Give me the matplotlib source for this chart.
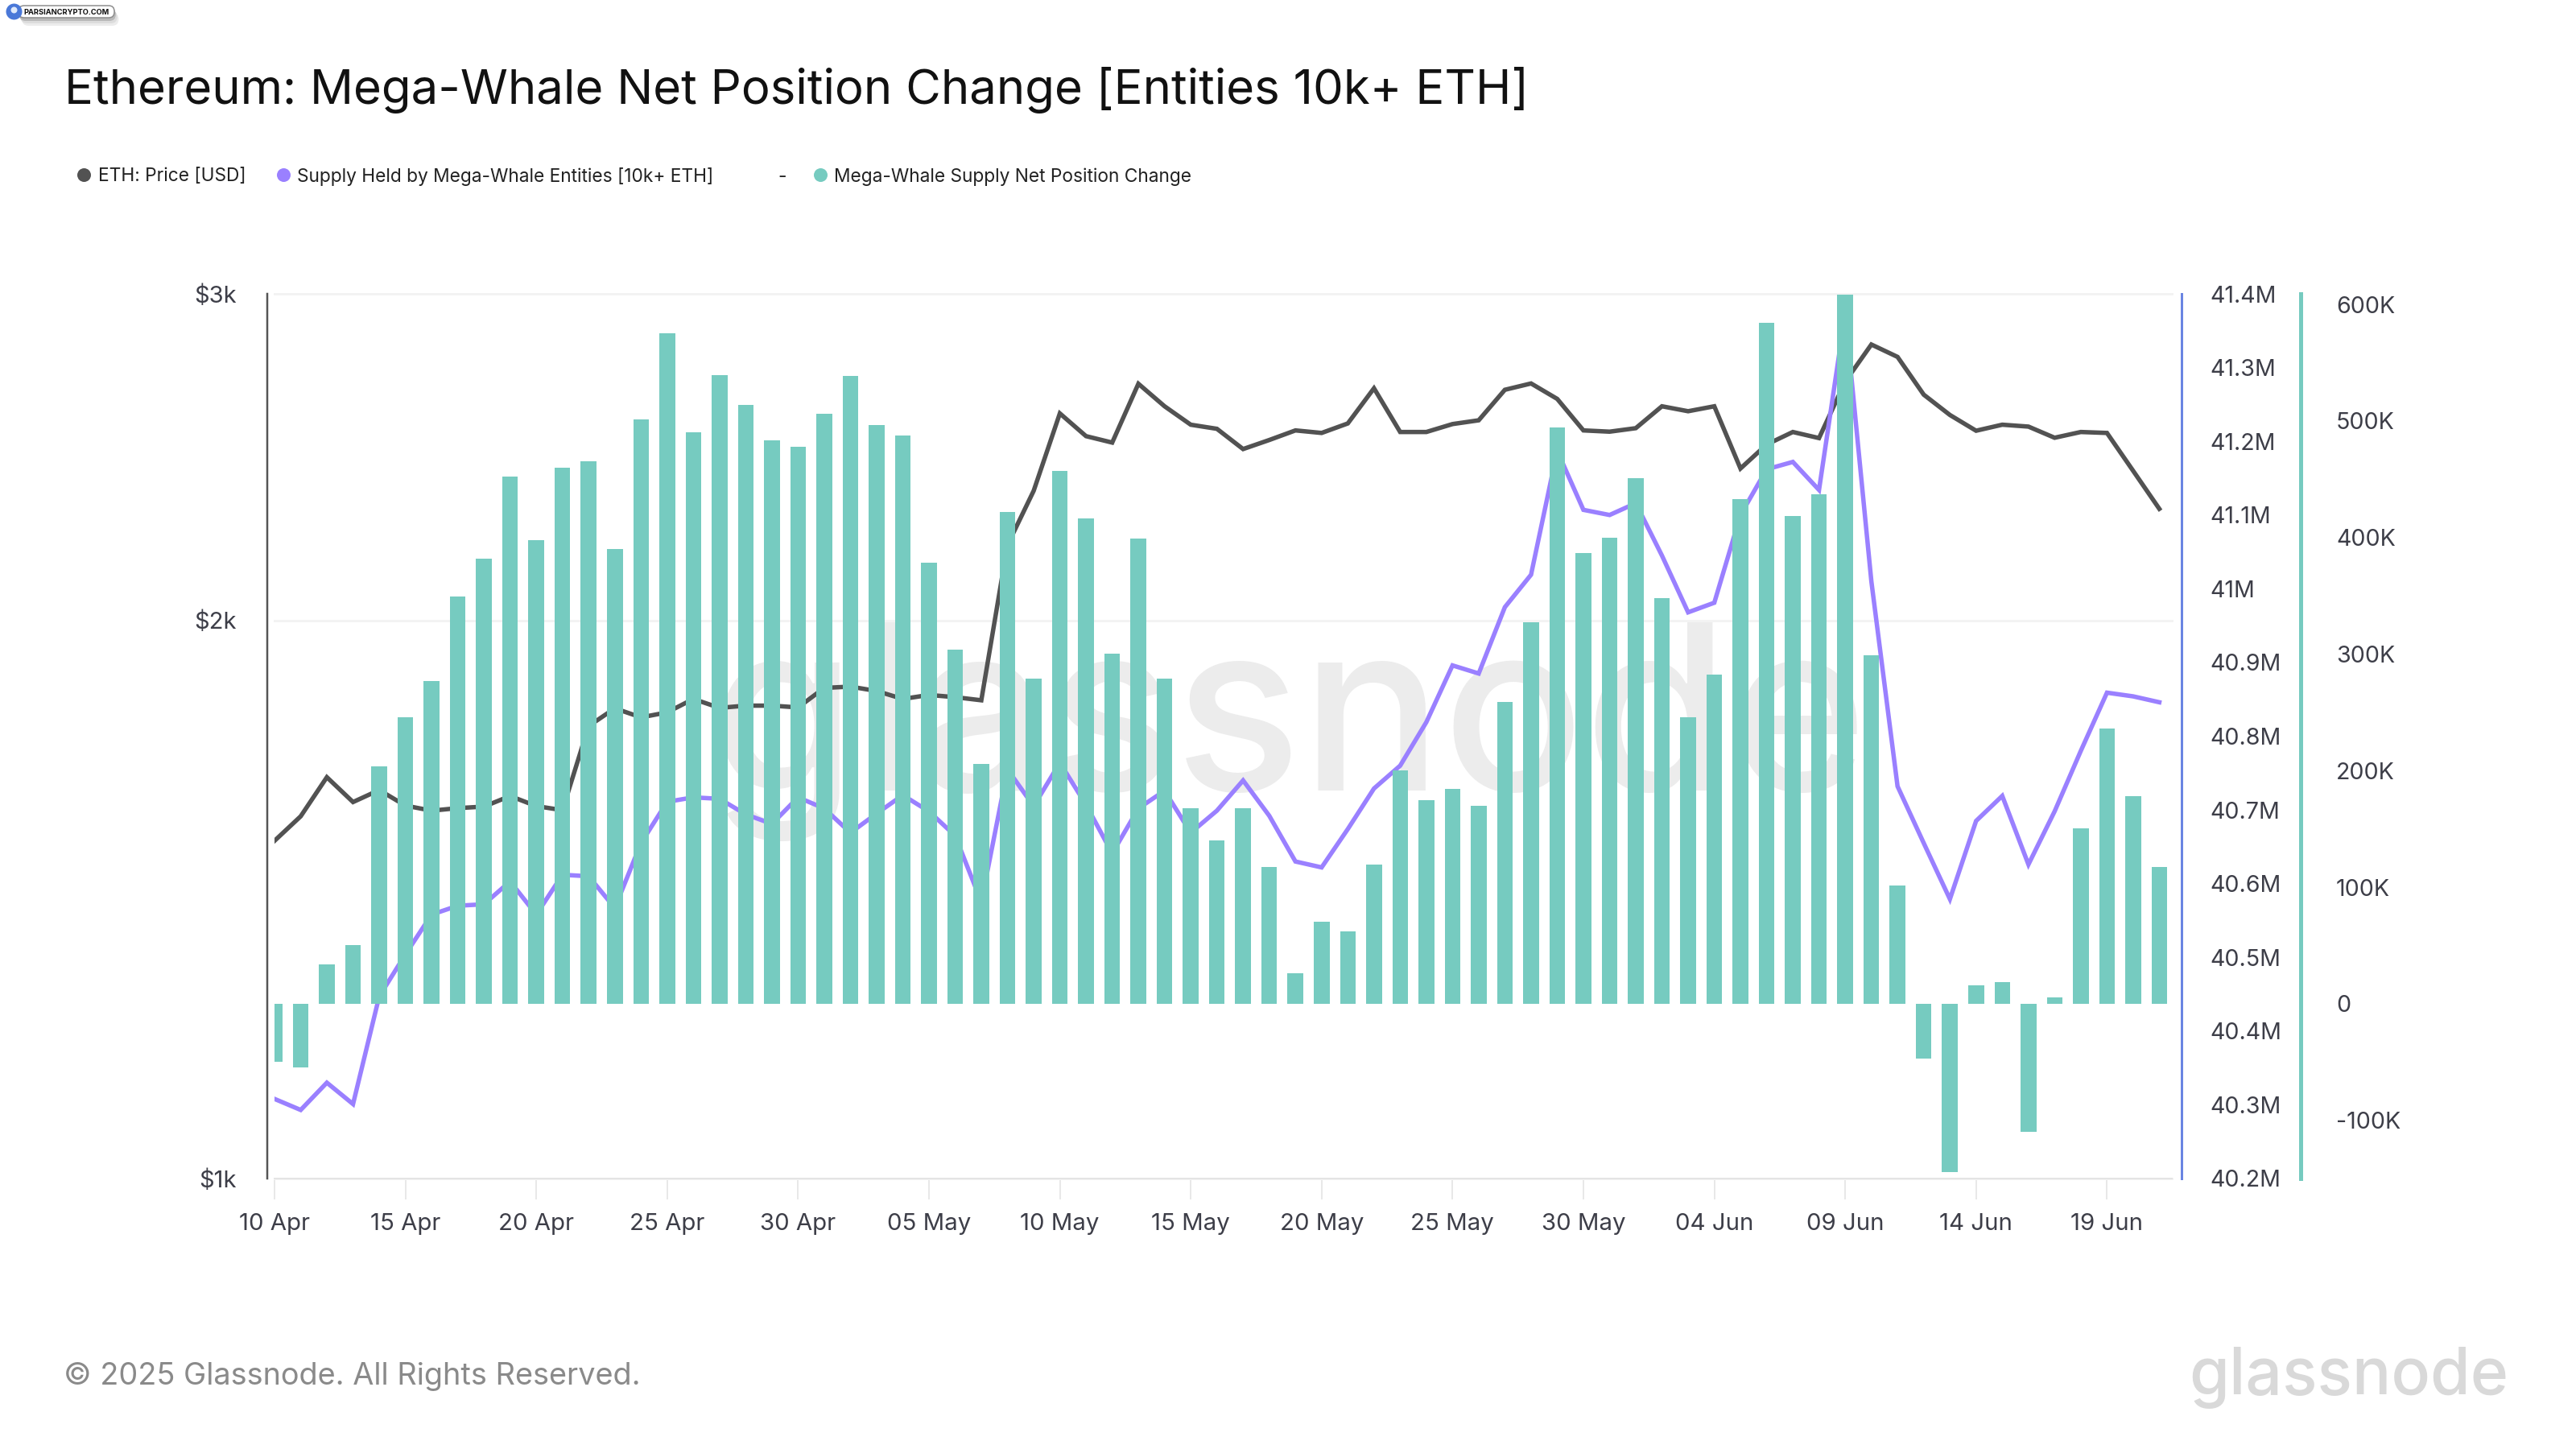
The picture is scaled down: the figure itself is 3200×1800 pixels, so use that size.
import matplotlib
matplotlib.use("Agg")
import matplotlib.pyplot as plt
import matplotlib.dates as mdates
import pandas as pd
from matplotlib.lines import Line2D
from matplotlib.patches import FancyBboxPatch
from matplotlib.ticker import FixedLocator, FixedFormatter, NullLocator
from matplotlib.transforms import IdentityTransform

plt.rcParams['font.family'] = ['Inter', 'DejaVu Sans']

W, H = 3200, 1800
DPI = 200
PT = 72 / DPI  # pt per pixel

price = [1521, 1568, 1646, 1596, 1620, 1589, 1579, 1584, 1587, 1608, 1588, 1580,
         1754, 1793, 1773, 1784, 1814, 1794, 1799, 1799, 1795, 1839, 1842, 1832,
         1814, 1823, 1818, 1811, 2196, 2349, 2586, 2514, 2494, 2683, 2609, 2550,
         2537, 2474, 2502, 2532, 2524, 2554, 2668, 2527, 2527, 2552, 2564, 2663,
         2684, 2633, 2532, 2528, 2539, 2609, 2593, 2609, 2415, 2488, 2527, 2508,
         2690, 2817, 2774, 2647, 2581, 2531, 2550, 2544, 2509, 2527, 2524, 2408, 2297]

supply_m = [40.308, 40.293, 40.330, 40.301, 40.447, 40.504, 40.558, 40.570, 40.572, 40.603,
            40.558, 40.612, 40.610, 40.567, 40.655, 40.711, 40.717, 40.715, 40.694, 40.681,
            40.717, 40.702, 40.669, 40.695, 40.720, 40.698, 40.665, 40.575, 40.755, 40.705,
            40.764, 40.707, 40.641, 40.702, 40.726, 40.669, 40.699, 40.740, 40.692, 40.630,
            40.622, 40.674, 40.729, 40.760, 40.819, 40.896, 40.885, 40.975, 41.019, 41.187,
            41.107, 41.100, 41.116, 41.045, 40.968, 40.981, 41.100, 41.162, 41.172, 41.134,
            41.373, 41.010, 40.732, 40.655, 40.579, 40.685, 40.719, 40.626, 40.698, 40.780,
            40.859, 40.854, 40.846]

net_change_k = [-50, -55, 34, 50, 203.4, 246, 277, 349.4, 382, 452, 398, 460, 465.5, 390,
                501, 575.4, 490, 539, 514, 483.6, 478, 506, 538.7, 496.6, 487.6, 378.5, 304,
                205.8, 421.5, 279, 457, 416.5, 300.5, 399, 279, 168, 140, 167.5, 117.4, 26.4,
                70, 62, 119, 200.4, 174.7, 184, 170, 259, 327, 494.5, 386.7, 400, 451, 348,
                246, 282.5, 433, 584, 418.5, 437, 608, 298.7, 101.5, -47, -144.6, 16, 18.6,
                -110, 5.7, 150.6, 236, 178, 117]

dates = pd.date_range("2025-04-10", periods=len(price), freq="D")

price_ticks = [1000, 2000, 3000]
price_labels = ["$1k", "$2k", "$3k"]
supply_ticks = [40.2, 40.3, 40.4, 40.5, 40.6, 40.7, 40.8, 40.9, 41.0, 41.1, 41.2, 41.3, 41.4]
supply_labels = ["40.2M", "40.3M", "40.4M", "40.5M", "40.6M", "40.7M", "40.8M", "40.9M",
                 "41M", "41.1M", "41.2M", "41.3M", "41.4M"]
net_ticks = [-100, 0, 100, 200, 300, 400, 500, 600]
net_labels = ["-100K", "0", "100K", "200K", "300K", "400K", "500K", "600K"]

title = "Ethereum: Mega-Whale Net Position Change [Entities 10k+ ETH]"
legend_names = ["ETH: Price [USD]", "Supply Held by Mega-Whale Entities [10k+ ETH]",
                "Mega-Whale Supply Net Position Change"]

C_PRICE = "#525252"
C_SUPPLY = "#9a80ff"
C_BAR = "#76cbc0"
C_BLUE = "#6a85e2"
C_TEXT = "#3d3e48"

fig = plt.figure(figsize=(W / DPI, H / DPI), dpi=DPI, facecolor="white")
L, R, T, B = 341, 2698, 365, 1464
rect = [L / W, 1 - B / H, (R - L) / W, (B - T) / H]


def fx(px):
    return px / W


def fy(py):
    return 1 - py / H


# watermark behind all axes
fig.text(fx(1601), fy(982), "glassnode", color="#ececec", fontsize=105, ha="center",
         va="baseline", zorder=-5, fontweight="medium")

ax1 = fig.add_axes(rect, zorder=1)
ax2 = fig.add_axes(rect, zorder=2, sharex=ax1)
ax3 = fig.add_axes(rect, zorder=3, sharex=ax1)
for a in (ax1, ax2, ax3):
    a.patch.set_alpha(0)
    for s in a.spines.values():
        s.set_visible(False)

lw = 5.5 * PT
ax1.plot(dates, price, color=C_PRICE, lw=lw, solid_joinstyle="miter")
ax1.set_yscale("log")
ax1.set_ylim(1000, 3000)
ax1.yaxis.set_major_locator(FixedLocator(price_ticks))
ax1.yaxis.set_major_formatter(FixedFormatter(price_labels))
ax1.yaxis.set_minor_locator(NullLocator())
ax1.grid(axis="y", color="#f3f3f3", lw=3 * PT, zorder=0, clip_on=False)
ax1.set_axisbelow(True)
ax1.spines["left"].set_visible(True)
ax1.spines["left"].set_position(("outward", 9 * PT))
ax1.spines["left"].set_color("#555555")
ax1.spines["left"].set_linewidth(2.5 * PT)
ax1.spines["bottom"].set_visible(True)
ax1.spines["bottom"].set_color("#e4e4e4")
ax1.spines["bottom"].set_linewidth(2 * PT)
ax1.tick_params(axis="y", which="major", length=0, pad=38 * PT, labelsize=10.5, labelcolor=C_TEXT)

tick_dates = dates[::5]
ax1.set_xticks(tick_dates)
ax1.xaxis.set_major_formatter(mdates.DateFormatter("%d %b"))
ax1.tick_params(axis="x", length=26 * PT, width=2 * PT, color="#e8e8e8", pad=17 * PT,
                labelsize=10.6, labelcolor=C_TEXT)
ax1.set_xlim(dates[0], dates[0] + pd.Timedelta(days=72.48))

ax2.plot(dates, supply_m, color=C_SUPPLY, lw=lw, solid_joinstyle="miter")
ax2.set_ylim(40.2, 41.4)
ax2.yaxis.tick_right()
ax2.set_yticks(supply_ticks)
ax2.set_yticklabels(supply_labels)
ax2.spines["right"].set_visible(True)
ax2.spines["right"].set_position(("outward", 12 * PT))
ax2.spines["right"].set_color(C_BLUE)
ax2.spines["right"].set_linewidth(3 * PT)
ax2.tick_params(axis="y", length=0, pad=35 * PT, labelsize=10.3, labelcolor=C_TEXT)
ax2.tick_params(axis="x", bottom=False, labelbottom=False)

ax3.bar(dates, net_change_k, width=0.6, color=C_BAR, linewidth=0)
ax3.set_ylim(-150, 609)
ax3.yaxis.tick_right()
ax3.set_yticks(net_ticks)
ax3.set_yticklabels(net_labels)
ax3.spines["right"].set_visible(True)
ax3.spines["right"].set_position(("outward", 160 * PT))
ax3.spines["right"].set_color(C_BAR)
ax3.spines["right"].set_linewidth(5 * PT)
ax3.tick_params(axis="y", length=0, pad=44 * PT, labelsize=10.3, labelcolor=C_TEXT)
ax3.tick_params(axis="x", bottom=False, labelbottom=False)

# title and footer
fig.text(fx(80), fy(129), title, color="#111111", fontsize=21.56, ha="left", va="baseline")
fig.text(fx(79), fy(1720), "© 2025 Glassnode. All Rights Reserved.", color="#8a8a8a",
         fontsize=13.65, ha="left", va="baseline")
fig.text(fx(3116), fy(1732), "glassnode", color="#d9d9d9", fontsize=29, ha="right",
         va="baseline", fontweight="medium")

# legend row
legend_y = 217
for mx, tx, col, name in zip([104, 352, 1019], [122, 369, 1036],
                             [C_PRICE, C_SUPPLY, C_BAR], legend_names):
    fig.add_artist(Line2D([fx(mx)], [fy(legend_y)], marker="o", ms=17 * PT, color=col,
                          mew=0, transform=fig.transFigure))
    fig.text(fx(tx), fy(legend_y), name, color="#222222", fontsize=8.2, ha="left",
             va="center_baseline")
fig.text(fx(972), fy(legend_y), "-", color="#222222", fontsize=8.2, ha="center",
         va="center_baseline")

# small source badge, top-left (pixel coordinates, y up)
ident = IdentityTransform()
for off, col in [(9, "#ececec"), (6, "#dcdcdc"), (3, "#b8b8b8")]:
    fig.add_artist(FancyBboxPatch((22 + off * 0.6, H - 23 - off), 120, 16,
                                  boxstyle="round,pad=0,rounding_size=8",
                                  transform=ident, fc=col, ec="none"))
fig.add_artist(FancyBboxPatch((23, H - 22), 119, 15,
                              boxstyle="round,pad=0,rounding_size=7",
                              transform=ident, fc="white", ec="#8c8c8c", lw=1.5 * PT))
fig.add_artist(Line2D([fx(17)], [fy(14)], marker="o", ms=20 * PT, color="#4a78d8", mew=0,
                      transform=fig.transFigure))
fig.add_artist(Line2D([fx(17)], [fy(12)], marker="o", ms=8 * PT, color="#dfe9fb", mew=0,
                      transform=fig.transFigure))
fig.text(fx(29), fy(14.5), "PARSIANCRYPTO.COM", color="#111111", fontsize=3.35, ha="left",
         va="center_baseline", fontweight="bold")

fig.savefig("out.png", dpi=DPI)
